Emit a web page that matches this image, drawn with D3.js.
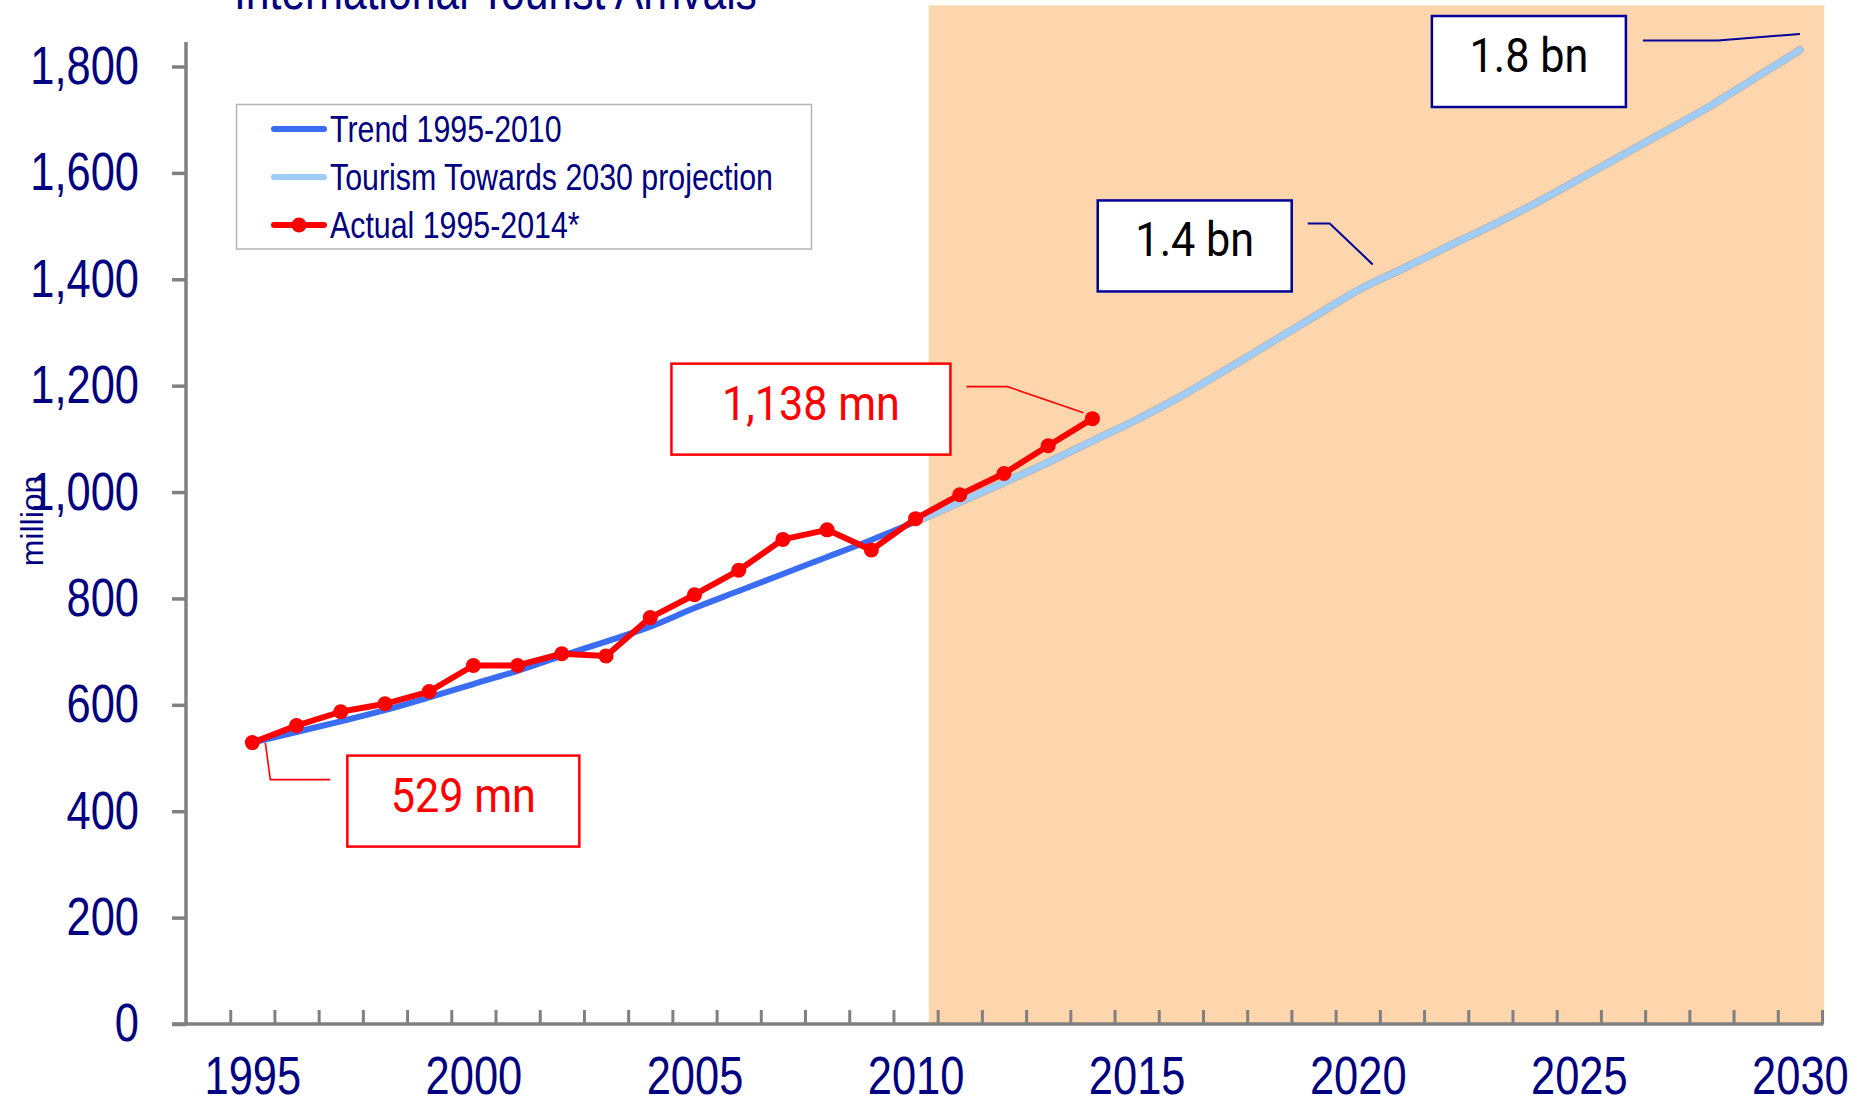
<!DOCTYPE html>
<html>
<head>
<meta charset="utf-8">
<script src="https://cdn.jsdelivr.net/npm/d3@7"></script>
<style>
  html, body { margin: 0; padding: 0; background: #fff; }
  svg { display: block; }
  .narrow { font-family: 'Liberation Sans Narrow', 'Arial Narrow', 'Liberation Sans', Arial, sans-serif; }
  .callout { font-family: Roboto, 'Noto Sans', sans-serif; }
</style>
</head>
<body>
<div id="chart"></div>
<script>
// ---- data ----
const actualYears = [1995, 1996, 1997, 1998, 1999, 2000, 2001, 2002, 2003, 2004,
  2005, 2006, 2007, 2008, 2009, 2010, 2011, 2012, 2013, 2014];
const actualValues = [529, 561, 587, 602, 625, 674, 674, 696, 692, 764,
  807, 853, 911, 929, 891, 950, 995, 1035, 1087, 1138];

const trendYears = [1995, 1996, 1997, 1998, 1999, 2000, 2001, 2002, 2003, 2004,
  2005, 2006, 2007, 2008, 2009, 2010];
const trendValues = [529, 549, 569, 590, 614, 639, 664, 692, 719, 747,
  782, 814, 846, 878, 910, 944];

const projYears = [2010, 2011, 2012, 2013, 2014, 2015, 2016, 2017, 2018, 2019, 2020,
  2021, 2022, 2023, 2024, 2025, 2026, 2027, 2028, 2029, 2030];
const projValues = [944, 981, 1018, 1056, 1096, 1136, 1180, 1229, 1279, 1329, 1379,
  1419, 1460, 1500, 1542, 1588, 1634, 1680, 1727, 1779, 1831];

const yTicks = [0, 200, 400, 600, 800, 1000, 1200, 1400, 1600, 1800];
const xLabelYears = [1995, 2000, 2005, 2010, 2015, 2020, 2025, 2030];
const legendLabels = ['Trend 1995-2010', 'Tourism Towards 2030 projection', 'Actual 1995-2014*'];
const titleText = 'International Tourist Arrivals';
const yAxisTitle = 'million';

// projection period shading (years / value)
const shadeFrom = 2010.3, shadeTo = 2030.55, shadeTop = 1915;

// callouts: label, anchor year and value
const callouts = [
  { text: '529 mn', year: 1995, value: 529, color: '#ff0000', textColor: '#ff0000' },
  { text: '1,138 mn', year: 2014, value: 1138, color: '#ff0000', textColor: '#ff0000' },
  { text: '1.4 bn', year: 2020, value: 1379, color: '#000099', textColor: '#000000' },
  { text: '1.8 bn', year: 2030, value: 1831, color: '#000099', textColor: '#000000' }
];

const colors = {
  navy: '#000080',
  axis: '#808080',
  trend: '#3a6cf4',
  proj: '#a0cdf8',
  actual: '#ff0000',
  shade: '#fdd6ad'
};

const NARROW = 0.82; // horizontal squeeze to mimic a narrow face

// ---- layout ----
const W = 1862, H = 1099;
const svg = d3.select('#chart').append('svg')
  .attr('width', W)
  .attr('height', H);

const x = d3.scaleLinear().domain([1993.5, 2030.5]).range([186, 1822]);
const y = d3.scaleLinear().domain([0, 1800]).range([1024, 66.5]);

// squeeze text around its own anchor
function narrowText(sel) {
  sel.each(function() {
    const t = d3.select(this);
    const xv = +t.attr('x') || 0;
    t.attr('x', 0).attr('transform', `translate(${xv},0) scale(${NARROW},1)`);
  });
}

// shaded projection area
svg.append('rect')
  .attr('x', x(shadeFrom))
  .attr('y', y(shadeTop))
  .attr('width', x(shadeTo) - x(shadeFrom))
  .attr('height', y(0) - y(shadeTop))
  .attr('fill', colors.shade);

// title (cut at top edge)
svg.append('g')
  .attr('transform', `translate(234,9) scale(${NARROW},1)`)
  .append('text')
  .attr('class', 'narrow')
  .attr('font-size', 52)
  .attr('fill', colors.navy)
  .text(titleText);

// y axis
const yAxis = svg.append('g')
  .attr('transform', `translate(${x(1993.5)},0)`)
  .call(d3.axisLeft(y).tickValues(yTicks).tickSize(14).tickPadding(33)
    .tickFormat(d3.format(',')));
yAxis.select('.domain').remove();
yAxis.append('line')
  .attr('y1', y(0)).attr('y2', 42)
  .attr('stroke', colors.axis).attr('stroke-width', 3.5);
yAxis.selectAll('.tick line').attr('stroke', colors.axis).attr('stroke-width', 3.5);
yAxis.selectAll('.tick text')
  .attr('class', 'narrow')
  .attr('font-size', 53)
  .attr('fill', colors.navy)
  .call(narrowText);

// y axis title
svg.append('text')
  .attr('class', 'narrow')
  .attr('transform', 'translate(43,521) rotate(-90)')
  .attr('text-anchor', 'middle')
  .attr('font-size', 32)
  .attr('fill', colors.navy)
  .text(yAxisTitle);

// x axis: ticks between categories, pointing inward
const boundaries = d3.range(1994.5, 2031, 1);
const xAxis = svg.append('g')
  .attr('transform', `translate(0,${y(0)})`)
  .call(d3.axisBottom(x).tickValues(boundaries).tickSize(-14).tickFormat(''));
xAxis.select('.domain').remove();
xAxis.append('line')
  .attr('x1', 172).attr('x2', x(2030.5) + 1.5)
  .attr('stroke', colors.axis).attr('stroke-width', 3.5);
xAxis.selectAll('.tick line').attr('stroke', colors.axis).attr('stroke-width', 3);

const xLabels = svg.append('g')
  .attr('transform', `translate(0,${y(0)})`)
  .call(d3.axisBottom(x).tickValues(xLabelYears).tickSize(0).tickPadding(32)
    .tickFormat(d3.format('d')));
xLabels.select('.domain').remove();
xLabels.selectAll('.tick text')
  .attr('class', 'narrow')
  .attr('font-size', 53)
  .attr('fill', colors.navy)
  .call(narrowText);

// lines
const line = d3.line()
  .x(d => x(d[0]))
  .y(d => y(d[1]));

const trendData = d3.zip(trendYears, trendValues);
const projData = d3.zip(projYears, projValues);
const actualData = d3.zip(actualYears, actualValues);

svg.append('path')
  .datum(trendData)
  .attr('fill', 'none')
  .attr('stroke', colors.trend)
  .attr('stroke-width', 6)
  .attr('stroke-linecap', 'round')
  .attr('d', line.curve(d3.curveMonotoneX));

svg.append('path')
  .datum(projData)
  .attr('fill', 'none')
  .attr('stroke', '#b9b9b9')
  .attr('stroke-width', 8)
  .attr('stroke-linecap', 'round')
  .attr('d', line.curve(d3.curveMonotoneX));

svg.append('path')
  .datum(projData)
  .attr('fill', 'none')
  .attr('stroke', colors.proj)
  .attr('stroke-width', 6)
  .attr('stroke-linecap', 'round')
  .attr('d', line.curve(d3.curveMonotoneX));

svg.append('path')
  .datum(actualData)
  .attr('fill', 'none')
  .attr('stroke', colors.actual)
  .attr('stroke-width', 6)
  .attr('stroke-linejoin', 'round')
  .attr('d', line.curve(d3.curveLinear));

svg.selectAll('.dot')
  .data(actualData)
  .join('circle')
  .attr('class', 'dot')
  .attr('cx', d => x(d[0]))
  .attr('cy', d => y(d[1]))
  .attr('r', 7.5)
  .attr('fill', colors.actual);

// legend
const legend = svg.append('g');
legend.append('rect')
  .attr('x', 236.5).attr('y', 104.5)
  .attr('width', 575).attr('height', 144.5)
  .attr('fill', '#fff')
  .attr('stroke', '#b4b4b4')
  .attr('stroke-width', 1.5);

const legendStyles = [
  { color: colors.trend, dot: false },
  { color: colors.proj, dot: false },
  { color: colors.actual, dot: true }
];

legendLabels.forEach((label, i) => {
  const g = legend.append('g')
    .attr('transform', `translate(0, ${129 + i * 48})`);
  g.append('line')
    .attr('x1', 274).attr('x2', 324)
    .attr('stroke', legendStyles[i].color)
    .attr('stroke-width', 6)
    .attr('stroke-linecap', 'round');
  if (legendStyles[i].dot) {
    g.append('circle').attr('cx', 299).attr('r', 7.5).attr('fill', legendStyles[i].color);
  }
  g.append('text')
    .attr('class', 'narrow')
    .attr('x', 330)
    .attr('dy', '0.36em')
    .attr('font-size', 37)
    .attr('fill', colors.navy)
    .text(label)
    .call(narrowText);
});

// callouts (box + leader line), placed relative to their anchor point
const calloutLayout = [
  { leader: [[13, 0], [18, 37], [78, 37]], box: [95, 13, 232, 91] },
  { leader: [[-9, -6], [-85, -32], [-126, -32]], box: [-421, -55, 279, 91] },
  { leader: [[15, -26], [-28, -67], [-50, -67]], box: [-260, -90, 194, 91] },
  { leader: [[0, -16], [-82, -9.5], [-157, -9.5]], box: [-368, -34, 194, 91] }
];

callouts.forEach((c, i) => {
  const px = x(c.year), py = y(c.value);
  const lay = calloutLayout[i];
  const g = svg.append('g').attr('transform', `translate(${px},${py})`);
  g.append('path')
    .attr('d', d3.line()(lay.leader))
    .attr('fill', 'none')
    .attr('stroke', c.color)
    .attr('stroke-width', c.color === '#ff0000' ? 1.6 : 2);
  const [bx, by, bw, bh] = lay.box;
  g.append('rect')
    .attr('x', bx).attr('y', by)
    .attr('width', bw).attr('height', bh)
    .attr('fill', '#fff')
    .attr('stroke', c.color)
    .attr('stroke-width', 2.5);
  g.append('g')
    .attr('transform', `translate(${bx + bw / 2},${by + 56}) scale(0.9,1)`)
    .append('text')
    .attr('class', 'callout')
    .attr('text-anchor', 'middle')
    .attr('font-size', 48)
    .attr('fill', c.textColor)
    .text(c.text);
});
</script>
</body>
</html>
